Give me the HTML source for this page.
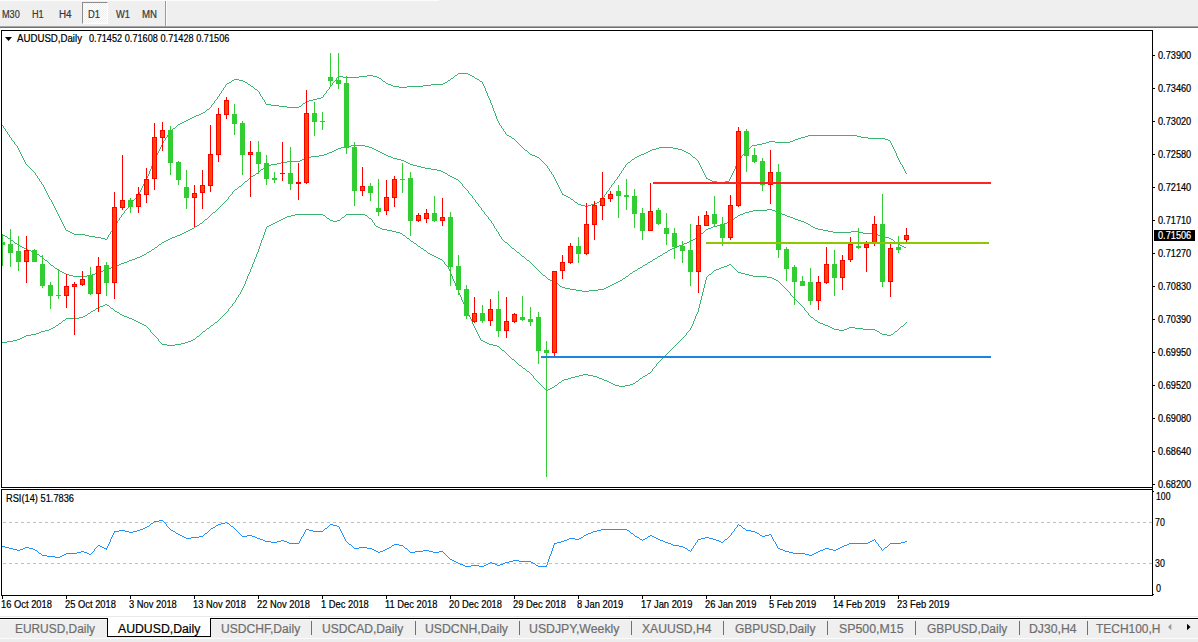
<!DOCTYPE html>
<html><head><meta charset="utf-8"><title>AUDUSD,Daily</title><style>
html,body{margin:0;padding:0;background:#fff}
body{width:1198px;height:642px;position:relative;overflow:hidden;font-family:"Liberation Sans",sans-serif}
.t{position:absolute;white-space:nowrap;color:#000;transform-origin:0 50%;-webkit-text-stroke:0.2px currentColor}
#tb{position:absolute;left:0;top:0;width:1198px;height:26px;background:#efefef}
#tbh{position:absolute;left:0;top:0;width:439px;height:1px;background:#fcfcfc}
#tbl1{position:absolute;left:0;top:26px;width:1198px;height:1px;background:#a6a6a6}
#tbl2{position:absolute;left:0;top:27px;width:1198px;height:1px;background:#707070}
#d1{position:absolute;left:82px;top:2px;width:24px;height:20px;border:1px solid #8c8c8c;border-right-color:#fff;border-bottom-color:#fff;background-color:#f7f7f7;background-image:conic-gradient(#fff 25%,#efefef 0 50%,#fff 0 75%,#efefef 0);background-size:2px 2px;box-sizing:content-box}
#vsep{position:absolute;left:165px;top:1px;width:1px;height:25px;background:#9a9a9a;border-right:1px solid #fbfbfb}
#tabs{position:absolute;left:0;top:620px;width:1198px;height:18px;background:#efefef}
#tabsl{position:absolute;left:0;top:616px;width:1198px;height:1px;background:#e8e8e8}
#tabline{position:absolute;left:0;top:618px;width:1198px;height:1px;background:#000}
#tabl2{position:absolute;left:0;top:619px;width:1198px;height:1px;background:#fafafa}
#tabbot{position:absolute;left:0;top:639px;width:1198px;height:3px;background:#ececec}
#tabbot2{position:absolute;left:0;top:638px;width:1198px;height:1px;background:#fbfbfb}
#act{position:absolute;left:107px;top:618px;width:102px;height:18px;background:#fff;border:1px solid #000;border-top:none;box-sizing:content-box}
.sep{position:absolute;top:621px;width:1px;height:14px;background:#707070}
svg{position:absolute;left:0;top:0}
</style></head><body>
<div id="tb"></div><div id="tbh"></div><div id="tbl1"></div><div id="tbl2"></div><div id="d1"></div><div id="vsep"></div><div class="t " style="left:1.5px;top:7.54px;font-size:10px;line-height:14px;color:#383838;transform:scaleX(0.9150)">M30</div><div class="t " style="left:32.3px;top:7.54px;font-size:10px;line-height:14px;color:#383838;transform:scaleX(0.9153)">H1</div><div class="t " style="left:59.2px;top:7.54px;font-size:10px;line-height:14px;color:#383838;transform:scaleX(0.9857)">H4</div><div class="t " style="left:88px;top:7.54px;font-size:10px;line-height:14px;color:#383838;transform:scaleX(0.9387)">D1</div><div class="t " style="left:115.8px;top:7.54px;font-size:10px;line-height:14px;color:#383838;transform:scaleX(0.9333)">W1</div><div class="t " style="left:142px;top:7.54px;font-size:10px;line-height:14px;color:#383838;transform:scaleX(0.9645)">MN</div>
<svg width="1198" height="642" viewBox="0 0 1198 642">
<defs><clipPath id="cm"><rect x="2" y="31" width="1150" height="456"/></clipPath><clipPath id="cr"><rect x="2" y="490" width="1150" height="105"/></clipPath></defs>
<g clip-path="url(#cm)" shape-rendering="crispEdges">
<path d="M458 73h10v1h-10zM457 74h1v1h-1zM468 74h2v1h-2zM367 75h6v1h-6zM455 75h2v1h-2zM470 75h2v1h-2zM338 76h5v1h-5zM359 76h8v1h-8zM373 76h4v1h-4zM454 76h1v1h-1zM472 76h2v1h-2zM337 77h1v1h-1zM343 77h16v1h-16zM377 77h2v1h-2zM453 77h1v1h-1zM474 77h1v1h-1zM379 78h2v1h-2zM451 78h2v1h-2zM475 78h2v1h-2zM336 78h1v2h-1zM234 79h5v1h-5zM381 79h1v1h-1zM450 79h1v1h-1zM477 79h2v1h-2zM232 80h2v1h-2zM239 80h4v1h-4zM335 80h1v1h-1zM382 80h1v1h-1zM448 80h2v1h-2zM479 80h1v1h-1zM231 81h1v1h-1zM243 81h2v1h-2zM334 81h1v1h-1zM383 81h2v1h-2zM447 81h1v1h-1zM480 81h2v1h-2zM229 82h2v1h-2zM245 82h2v1h-2zM333 82h1v1h-1zM385 82h1v1h-1zM445 82h2v1h-2zM482 82h1v2h-1zM227 83h2v1h-2zM247 83h1v1h-1zM386 83h2v1h-2zM443 83h2v1h-2zM332 83h1v2h-1zM226 84h1v1h-1zM248 84h2v1h-2zM388 84h3v1h-3zM431 84h12v1h-12zM483 84h1v2h-1zM250 85h1v1h-1zM331 85h1v1h-1zM391 85h2v1h-2zM423 85h8v1h-8zM225 85h1v2h-1zM251 86h2v1h-2zM330 86h1v1h-1zM393 86h6v1h-6zM407 86h16v1h-16zM484 86h1v2h-1zM224 87h1v1h-1zM253 87h1v1h-1zM399 87h8v1h-8zM329 87h1v2h-1zM254 88h1v1h-1zM223 88h1v2h-1zM485 88h1v3h-1zM255 89h2v1h-2zM328 89h1v1h-1zM222 90h1v1h-1zM257 90h1v1h-1zM327 90h1v1h-1zM258 91h1v1h-1zM221 91h1v2h-1zM326 91h1v2h-1zM486 91h1v2h-1zM259 92h1v2h-1zM220 93h1v1h-1zM325 93h1v1h-1zM487 93h1v3h-1zM324 94h1v1h-1zM219 94h1v2h-1zM260 94h1v2h-1zM323 95h1v2h-1zM218 96h1v1h-1zM261 96h1v1h-1zM488 96h1v2h-1zM321 97h2v1h-2zM217 97h1v2h-1zM262 97h1v2h-1zM317 98h4v1h-4zM489 98h1v2h-1zM216 99h1v1h-1zM263 99h1v1h-1zM313 99h4v1h-4zM215 100h1v1h-1zM309 100h4v1h-4zM264 100h1v2h-1zM490 100h1v3h-1zM306 101h3v1h-3zM214 101h1v2h-1zM305 102h1v1h-1zM265 102h1v2h-1zM213 103h1v1h-1zM303 103h2v1h-2zM491 103h1v2h-1zM212 104h1v1h-1zM266 104h5v1h-5zM302 104h1v1h-1zM271 105h8v1h-8zM301 105h1v1h-1zM211 105h1v2h-1zM492 105h1v3h-1zM279 106h8v1h-8zM299 106h2v1h-2zM210 107h1v1h-1zM287 107h12v1h-12zM209 108h1v1h-1zM493 108h1v3h-1zM207 109h2v1h-2zM206 110h1v1h-1zM205 111h1v1h-1zM494 111h1v2h-1zM203 112h2v1h-2zM-6 113h1v1h-1zM201 113h2v1h-2zM495 113h1v3h-1zM199 114h2v1h-2zM-5 114h1v2h-1zM196 115h3v1h-3zM-4 116h1v1h-1zM194 116h2v1h-2zM496 116h1v3h-1zM192 117h2v1h-2zM-3 117h1v2h-1zM190 118h2v1h-2zM-2 119h1v1h-1zM188 119h2v1h-2zM497 119h1v2h-1zM186 120h2v1h-2zM-1 120h1v2h-1zM184 121h2v1h-2zM498 121h1v2h-1zM0 122h1v1h-1zM182 122h2v1h-2zM180 123h2v1h-2zM1 123h1v2h-1zM499 123h1v2h-1zM178 124h2v1h-2zM2 125h1v1h-1zM177 125h1v1h-1zM500 125h1v1h-1zM176 126h1v1h-1zM3 126h1v2h-1zM501 126h1v2h-1zM175 127h1v1h-1zM4 128h1v1h-1zM173 128h2v1h-2zM502 128h1v1h-1zM172 129h1v1h-1zM5 129h1v2h-1zM503 129h1v2h-1zM171 130h1v1h-1zM6 131h1v1h-1zM170 131h1v1h-1zM504 131h1v1h-1zM7 132h1v2h-1zM169 132h1v2h-1zM505 132h1v2h-1zM8 134h1v1h-1zM168 134h1v1h-1zM506 134h1v1h-1zM507 135h2v1h-2zM808 135h49v1h-49zM9 135h1v2h-1zM167 135h1v2h-1zM509 136h2v1h-2zM805 136h3v1h-3zM857 136h4v1h-4zM10 137h1v1h-1zM166 137h1v1h-1zM511 137h1v1h-1zM801 137h4v1h-4zM861 137h7v1h-7zM512 138h2v1h-2zM798 138h3v1h-3zM868 138h17v1h-17zM11 138h1v2h-1zM165 138h1v2h-1zM514 139h1v1h-1zM795 139h3v1h-3zM885 139h3v1h-3zM12 140h1v1h-1zM164 140h1v1h-1zM515 140h1v1h-1zM793 140h2v1h-2zM888 140h2v1h-2zM13 141h1v1h-1zM516 141h1v1h-1zM769 141h6v1h-6zM790 141h3v1h-3zM163 141h1v2h-1zM890 141h1v2h-1zM517 142h1v1h-1zM766 142h3v1h-3zM775 142h15v1h-15zM14 142h1v2h-1zM518 143h1v1h-1zM762 143h4v1h-4zM162 143h1v2h-1zM891 143h1v2h-1zM15 144h1v1h-1zM519 144h1v1h-1zM757 144h5v1h-5zM16 145h1v1h-1zM520 145h1v1h-1zM752 145h5v1h-5zM161 145h1v2h-1zM892 145h1v2h-1zM521 146h1v1h-1zM751 146h1v1h-1zM17 146h1v2h-1zM522 147h1v1h-1zM659 147h14v1h-14zM750 147h1v1h-1zM160 147h1v2h-1zM893 147h1v2h-1zM523 148h1v1h-1zM656 148h3v1h-3zM673 148h5v1h-5zM749 148h1v1h-1zM18 148h1v2h-1zM524 149h1v1h-1zM652 149h4v1h-4zM678 149h4v1h-4zM748 149h1v1h-1zM159 149h1v2h-1zM894 149h1v2h-1zM525 150h2v1h-2zM650 150h2v1h-2zM682 150h2v1h-2zM747 150h1v1h-1zM19 150h1v2h-1zM527 151h1v1h-1zM648 151h2v1h-2zM684 151h2v1h-2zM746 151h1v1h-1zM158 151h1v2h-1zM895 151h1v2h-1zM528 152h1v1h-1zM646 152h2v1h-2zM686 152h2v1h-2zM745 152h1v1h-1zM20 152h1v2h-1zM529 153h1v1h-1zM644 153h2v1h-2zM688 153h2v1h-2zM744 153h1v1h-1zM157 153h1v2h-1zM896 153h1v3h-1zM530 154h2v1h-2zM641 154h3v1h-3zM690 154h1v1h-1zM743 154h1v1h-1zM21 154h1v2h-1zM532 155h3v1h-3zM639 155h2v1h-2zM691 155h1v1h-1zM742 155h1v1h-1zM156 155h1v2h-1zM535 156h2v1h-2zM637 156h2v1h-2zM692 156h1v1h-1zM22 156h1v2h-1zM741 156h1v2h-1zM897 156h1v2h-1zM537 157h2v1h-2zM635 157h2v1h-2zM693 157h2v1h-2zM155 157h1v2h-1zM539 158h1v1h-1zM634 158h1v1h-1zM695 158h1v1h-1zM740 158h1v1h-1zM23 158h1v2h-1zM898 158h1v2h-1zM540 159h1v1h-1zM632 159h2v1h-2zM696 159h1v1h-1zM739 159h1v1h-1zM154 159h1v3h-1zM541 160h1v1h-1zM631 160h1v1h-1zM697 160h1v1h-1zM24 160h1v2h-1zM738 160h1v2h-1zM899 160h1v2h-1zM542 161h1v1h-1zM630 161h1v1h-1zM698 161h1v2h-1zM543 162h1v1h-1zM628 162h2v1h-2zM25 162h1v2h-1zM153 162h1v2h-1zM737 162h1v2h-1zM900 162h1v2h-1zM544 163h1v1h-1zM627 163h1v1h-1zM699 163h1v2h-1zM26 164h1v1h-1zM545 164h1v1h-1zM626 164h1v1h-1zM901 164h1v1h-1zM152 164h1v2h-1zM736 164h1v2h-1zM27 165h1v1h-1zM546 165h1v1h-1zM625 165h1v2h-1zM700 165h1v2h-1zM902 165h1v2h-1zM28 166h1v1h-1zM547 166h1v2h-1zM151 166h1v3h-1zM735 166h1v3h-1zM29 167h1v1h-1zM624 167h1v1h-1zM701 167h1v2h-1zM903 167h1v2h-1zM30 168h1v1h-1zM548 168h1v1h-1zM623 168h1v2h-1zM31 169h1v1h-1zM150 169h1v2h-1zM549 169h1v2h-1zM702 169h1v2h-1zM734 169h1v2h-1zM904 169h1v2h-1zM32 170h1v1h-1zM622 170h1v1h-1zM33 171h1v1h-1zM550 171h1v1h-1zM621 171h1v2h-1zM703 171h1v2h-1zM733 171h1v2h-1zM905 171h1v2h-1zM149 171h1v3h-1zM34 172h1v1h-1zM551 172h1v2h-1zM620 173h1v1h-1zM906 173h1v1h-1zM35 173h1v2h-1zM704 173h1v2h-1zM732 173h1v2h-1zM552 174h1v1h-1zM148 174h1v2h-1zM619 174h1v2h-1zM36 175h1v1h-1zM553 175h1v2h-1zM705 175h1v2h-1zM731 175h1v2h-1zM618 176h1v1h-1zM37 176h1v2h-1zM147 176h1v2h-1zM554 177h1v2h-1zM617 177h1v2h-1zM706 177h1v2h-1zM730 177h1v2h-1zM38 178h1v1h-1zM707 178h1v1h-1zM146 178h1v2h-1zM616 179h1v1h-1zM708 179h2v1h-2zM39 179h1v2h-1zM555 179h1v2h-1zM729 179h1v2h-1zM615 180h1v1h-1zM710 180h2v1h-2zM145 180h1v2h-1zM40 181h1v1h-1zM712 181h5v1h-5zM725 181h4v1h-4zM556 181h1v2h-1zM614 181h1v2h-1zM717 182h8v1h-8zM41 182h1v2h-1zM144 182h1v2h-1zM613 183h1v1h-1zM557 183h1v2h-1zM42 184h1v1h-1zM612 184h1v1h-1zM143 184h1v2h-1zM43 185h1v2h-1zM558 185h1v2h-1zM611 185h1v2h-1zM142 186h1v2h-1zM610 187h1v1h-1zM44 187h1v2h-1zM559 187h1v2h-1zM141 188h1v2h-1zM609 188h1v2h-1zM45 189h1v2h-1zM560 189h1v2h-1zM608 190h1v1h-1zM140 190h1v2h-1zM607 191h1v1h-1zM46 191h1v2h-1zM561 191h1v2h-1zM139 192h1v2h-1zM606 192h1v2h-1zM47 193h1v2h-1zM562 193h1v2h-1zM138 194h1v1h-1zM563 194h1v1h-1zM605 194h1v1h-1zM137 195h1v1h-1zM564 195h2v1h-2zM48 195h1v2h-1zM604 195h1v2h-1zM566 196h2v1h-2zM136 196h1v2h-1zM568 197h2v1h-2zM603 197h1v1h-1zM49 197h1v2h-1zM135 198h1v1h-1zM570 198h1v1h-1zM602 198h1v1h-1zM50 199h1v1h-1zM134 199h1v1h-1zM571 199h2v1h-2zM601 199h1v2h-1zM133 200h1v1h-1zM573 200h1v1h-1zM51 200h1v2h-1zM574 201h1v1h-1zM599 201h2v1h-2zM132 201h1v2h-1zM575 202h2v1h-2zM597 202h2v1h-2zM52 202h1v2h-1zM131 203h1v1h-1zM577 203h1v1h-1zM594 203h3v1h-3zM130 204h1v1h-1zM578 204h3v1h-3zM591 204h3v1h-3zM53 204h1v2h-1zM129 205h1v1h-1zM581 205h4v1h-4zM588 205h3v1h-3zM585 206h3v1h-3zM54 206h1v2h-1zM128 206h1v2h-1zM127 208h1v1h-1zM55 208h1v2h-1zM126 209h1v1h-1zM125 210h1v1h-1zM56 210h1v2h-1zM124 211h1v2h-1zM57 212h1v2h-1zM123 213h1v1h-1zM122 214h1v1h-1zM58 214h1v2h-1zM121 215h1v2h-1zM59 216h1v2h-1zM120 217h1v1h-1zM60 218h1v2h-1zM119 218h1v2h-1zM118 220h1v1h-1zM61 220h1v2h-1zM117 221h1v2h-1zM62 222h1v2h-1zM116 223h1v1h-1zM63 224h1v2h-1zM115 224h1v2h-1zM114 226h1v1h-1zM64 226h1v2h-1zM113 227h1v2h-1zM65 228h1v2h-1zM112 229h1v2h-1zM66 230h2v1h-2zM68 231h2v1h-2zM111 231h1v1h-1zM70 232h2v1h-2zM110 232h1v2h-1zM72 233h2v1h-2zM74 234h11v1h-11zM109 234h1v1h-1zM85 235h4v1h-4zM108 235h1v2h-1zM89 236h6v1h-6zM95 237h6v1h-6zM107 237h1v2h-1zM101 238h4v1h-4zM105 239h2v1h-2z" fill="#3cb371" />
<path d="M351 145h14v1h-14zM345 146h6v1h-6zM365 146h4v1h-4zM341 147h4v1h-4zM369 147h3v1h-3zM338 148h3v1h-3zM372 148h2v1h-2zM336 149h2v1h-2zM374 149h2v1h-2zM334 150h2v1h-2zM376 150h2v1h-2zM332 151h2v1h-2zM378 151h2v1h-2zM329 152h3v1h-3zM380 152h2v1h-2zM327 153h2v1h-2zM382 153h2v1h-2zM324 154h3v1h-3zM384 154h2v1h-2zM319 155h5v1h-5zM386 155h2v1h-2zM311 156h8v1h-8zM388 156h3v1h-3zM306 157h5v1h-5zM391 157h2v1h-2zM304 158h2v1h-2zM393 158h4v1h-4zM302 159h2v1h-2zM397 159h4v1h-4zM300 160h2v1h-2zM401 160h3v1h-3zM287 161h13v1h-13zM404 161h2v1h-2zM281 162h6v1h-6zM406 162h2v1h-2zM277 163h4v1h-4zM408 163h2v1h-2zM271 164h6v1h-6zM410 164h3v1h-3zM266 165h5v1h-5zM413 165h4v1h-4zM265 166h1v1h-1zM417 166h4v1h-4zM264 167h1v1h-1zM421 167h4v1h-4zM263 168h1v1h-1zM425 168h6v1h-6zM261 169h2v1h-2zM431 169h6v1h-6zM260 170h1v1h-1zM437 170h4v1h-4zM259 171h1v1h-1zM441 171h2v1h-2zM258 172h1v1h-1zM443 172h2v1h-2zM256 173h2v1h-2zM445 173h2v1h-2zM255 174h1v1h-1zM447 174h1v1h-1zM253 175h2v1h-2zM448 175h2v1h-2zM251 176h2v1h-2zM450 176h2v1h-2zM250 177h1v1h-1zM452 177h2v1h-2zM249 178h1v1h-1zM454 178h2v1h-2zM248 179h1v1h-1zM456 179h2v1h-2zM247 180h1v1h-1zM458 180h1v1h-1zM245 181h2v1h-2zM459 181h1v1h-1zM244 182h1v1h-1zM460 182h1v1h-1zM243 183h1v1h-1zM461 183h1v1h-1zM242 184h1v1h-1zM462 184h1v2h-1zM241 185h1v1h-1zM239 186h2v1h-2zM463 186h1v1h-1zM238 187h1v1h-1zM464 187h1v1h-1zM237 188h1v1h-1zM465 188h1v1h-1zM235 189h2v1h-2zM466 189h1v1h-1zM234 190h1v1h-1zM467 190h1v1h-1zM233 191h1v1h-1zM468 191h1v2h-1zM232 192h1v2h-1zM469 193h1v1h-1zM231 194h1v1h-1zM470 194h1v1h-1zM230 195h1v1h-1zM471 195h1v1h-1zM229 196h1v1h-1zM472 196h1v2h-1zM228 197h1v2h-1zM473 198h1v1h-1zM227 199h1v1h-1zM474 199h1v1h-1zM226 200h1v1h-1zM475 200h1v2h-1zM225 201h1v1h-1zM224 202h1v1h-1zM476 202h1v1h-1zM223 203h1v1h-1zM477 203h1v1h-1zM222 204h1v1h-1zM478 204h1v2h-1zM221 205h1v1h-1zM220 206h1v1h-1zM479 206h1v1h-1zM219 207h1v1h-1zM480 207h1v1h-1zM218 208h1v1h-1zM481 208h1v2h-1zM217 209h1v1h-1zM767 209h5v1h-5zM216 210h1v1h-1zM482 210h1v1h-1zM753 210h14v1h-14zM772 210h3v1h-3zM215 211h1v1h-1zM483 211h1v1h-1zM749 211h4v1h-4zM775 211h2v1h-2zM213 212h2v1h-2zM745 212h4v1h-4zM777 212h3v1h-3zM484 212h1v2h-1zM212 213h1v1h-1zM743 213h2v1h-2zM780 213h2v1h-2zM211 214h1v1h-1zM485 214h1v1h-1zM740 214h3v1h-3zM782 214h3v1h-3zM210 215h1v1h-1zM486 215h1v1h-1zM738 215h2v1h-2zM785 215h2v1h-2zM209 216h1v1h-1zM487 216h1v1h-1zM737 216h1v1h-1zM787 216h3v1h-3zM208 217h1v1h-1zM735 217h2v1h-2zM790 217h3v1h-3zM488 217h1v2h-1zM207 218h1v1h-1zM734 218h1v1h-1zM793 218h2v1h-2zM205 219h2v1h-2zM489 219h1v1h-1zM733 219h1v1h-1zM795 219h3v1h-3zM204 220h1v1h-1zM490 220h1v1h-1zM731 220h2v1h-2zM798 220h3v1h-3zM203 221h1v1h-1zM729 221h2v1h-2zM801 221h3v1h-3zM491 221h1v2h-1zM202 222h1v1h-1zM727 222h2v1h-2zM804 222h2v1h-2zM200 223h2v1h-2zM492 223h1v1h-1zM724 223h3v1h-3zM806 223h2v1h-2zM199 224h1v1h-1zM721 224h3v1h-3zM808 224h2v1h-2zM493 224h1v2h-1zM197 225h2v1h-2zM717 225h4v1h-4zM810 225h1v1h-1zM195 226h2v1h-2zM713 226h4v1h-4zM811 226h2v1h-2zM494 226h1v2h-1zM194 227h1v1h-1zM711 227h2v1h-2zM813 227h2v1h-2zM192 228h2v1h-2zM495 228h1v1h-1zM708 228h3v1h-3zM815 228h3v1h-3zM190 229h2v1h-2zM706 229h2v1h-2zM818 229h5v1h-5zM496 229h1v2h-1zM-6 230h2v1h-2zM188 230h2v1h-2zM705 230h1v1h-1zM823 230h5v1h-5zM-4 231h2v1h-2zM186 231h2v1h-2zM497 231h1v1h-1zM704 231h1v1h-1zM828 231h5v1h-5zM851 231h7v1h-7zM-2 232h2v1h-2zM184 232h2v1h-2zM703 232h1v1h-1zM833 232h18v1h-18zM858 232h5v1h-5zM498 232h1v2h-1zM0 233h2v1h-2zM182 233h2v1h-2zM701 233h2v1h-2zM863 233h11v1h-11zM2 234h1v1h-1zM180 234h2v1h-2zM700 234h1v1h-1zM874 234h4v1h-4zM499 234h1v2h-1zM3 235h2v1h-2zM177 235h3v1h-3zM699 235h1v1h-1zM878 235h3v1h-3zM5 236h2v1h-2zM175 236h2v1h-2zM500 236h1v1h-1zM698 236h1v1h-1zM881 236h4v1h-4zM7 237h1v1h-1zM172 237h3v1h-3zM696 237h2v1h-2zM885 237h4v1h-4zM501 237h1v2h-1zM8 238h2v1h-2zM170 238h2v1h-2zM695 238h1v1h-1zM889 238h2v1h-2zM10 239h1v1h-1zM168 239h2v1h-2zM502 239h1v1h-1zM693 239h2v1h-2zM891 239h2v1h-2zM11 240h2v1h-2zM166 240h2v1h-2zM503 240h1v1h-1zM691 240h2v1h-2zM893 240h1v1h-1zM13 241h1v1h-1zM164 241h2v1h-2zM504 241h1v1h-1zM689 241h2v1h-2zM894 241h1v1h-1zM14 242h1v1h-1zM162 242h2v1h-2zM505 242h2v1h-2zM687 242h2v1h-2zM895 242h2v1h-2zM15 243h2v1h-2zM161 243h1v1h-1zM507 243h1v1h-1zM684 243h3v1h-3zM897 243h1v1h-1zM17 244h1v1h-1zM159 244h2v1h-2zM508 244h1v1h-1zM682 244h2v1h-2zM898 244h2v1h-2zM18 245h2v1h-2zM158 245h1v1h-1zM509 245h1v1h-1zM679 245h3v1h-3zM900 245h2v1h-2zM20 246h2v1h-2zM157 246h1v1h-1zM510 246h1v1h-1zM677 246h2v1h-2zM902 246h2v1h-2zM22 247h2v1h-2zM155 247h2v1h-2zM511 247h1v1h-1zM674 247h3v1h-3zM904 247h2v1h-2zM24 248h2v1h-2zM154 248h1v1h-1zM512 248h2v1h-2zM672 248h2v1h-2zM26 249h2v1h-2zM152 249h2v1h-2zM514 249h1v1h-1zM670 249h2v1h-2zM28 250h3v1h-3zM151 250h1v1h-1zM515 250h1v1h-1zM668 250h2v1h-2zM31 251h2v1h-2zM149 251h2v1h-2zM516 251h1v1h-1zM667 251h1v1h-1zM33 252h2v1h-2zM147 252h2v1h-2zM517 252h2v1h-2zM665 252h2v1h-2zM35 253h2v1h-2zM146 253h1v1h-1zM519 253h1v1h-1zM663 253h2v1h-2zM37 254h2v1h-2zM144 254h2v1h-2zM520 254h1v1h-1zM662 254h1v1h-1zM39 255h1v1h-1zM142 255h2v1h-2zM521 255h1v1h-1zM660 255h2v1h-2zM40 256h2v1h-2zM140 256h2v1h-2zM522 256h2v1h-2zM658 256h2v1h-2zM42 257h1v1h-1zM137 257h3v1h-3zM524 257h1v1h-1zM657 257h1v1h-1zM43 258h1v1h-1zM135 258h2v1h-2zM525 258h1v1h-1zM655 258h2v1h-2zM44 259h1v1h-1zM132 259h3v1h-3zM526 259h1v1h-1zM653 259h2v1h-2zM45 260h2v1h-2zM129 260h3v1h-3zM527 260h2v1h-2zM652 260h1v1h-1zM47 261h1v1h-1zM127 261h2v1h-2zM529 261h1v1h-1zM650 261h2v1h-2zM48 262h1v1h-1zM124 262h3v1h-3zM530 262h1v1h-1zM648 262h2v1h-2zM49 263h1v1h-1zM121 263h3v1h-3zM531 263h1v1h-1zM647 263h1v1h-1zM50 264h1v1h-1zM119 264h2v1h-2zM532 264h1v1h-1zM645 264h2v1h-2zM51 265h2v1h-2zM116 265h3v1h-3zM533 265h1v1h-1zM643 265h2v1h-2zM53 266h1v1h-1zM113 266h3v1h-3zM534 266h1v1h-1zM642 266h1v1h-1zM54 267h1v1h-1zM111 267h2v1h-2zM535 267h1v1h-1zM640 267h2v1h-2zM55 268h2v1h-2zM108 268h3v1h-3zM536 268h1v1h-1zM638 268h2v1h-2zM57 269h1v1h-1zM105 269h3v1h-3zM537 269h1v1h-1zM637 269h1v1h-1zM58 270h2v1h-2zM103 270h2v1h-2zM538 270h1v1h-1zM635 270h2v1h-2zM60 271h2v1h-2zM100 271h3v1h-3zM539 271h1v1h-1zM633 271h2v1h-2zM62 272h2v1h-2zM97 272h3v1h-3zM540 272h1v1h-1zM632 272h1v1h-1zM64 273h2v1h-2zM95 273h2v1h-2zM541 273h1v1h-1zM630 273h2v1h-2zM66 274h3v1h-3zM92 274h3v1h-3zM542 274h1v1h-1zM629 274h1v1h-1zM69 275h4v1h-4zM87 275h5v1h-5zM543 275h2v1h-2zM628 275h1v1h-1zM73 276h14v1h-14zM545 276h1v1h-1zM626 276h2v1h-2zM546 277h1v1h-1zM625 277h1v1h-1zM547 278h1v1h-1zM623 278h2v1h-2zM548 279h2v1h-2zM622 279h1v1h-1zM550 280h2v1h-2zM620 280h2v1h-2zM552 281h2v1h-2zM618 281h2v1h-2zM554 282h2v1h-2zM616 282h2v1h-2zM556 283h2v1h-2zM614 283h2v1h-2zM558 284h1v1h-1zM612 284h2v1h-2zM559 285h1v1h-1zM610 285h2v1h-2zM560 286h2v1h-2zM608 286h2v1h-2zM562 287h3v1h-3zM606 287h2v1h-2zM565 288h5v1h-5zM604 288h2v1h-2zM570 289h6v1h-6zM598 289h6v1h-6zM576 290h6v1h-6zM589 290h9v1h-9zM582 291h7v1h-7z" fill="#3cb371" />
<path d="M295 214h28v1h-28zM346 214h19v1h-19zM291 215h4v1h-4zM323 215h2v1h-2zM345 215h1v1h-1zM365 215h2v1h-2zM287 216h4v1h-4zM325 216h1v1h-1zM344 216h1v1h-1zM367 216h1v1h-1zM285 217h2v1h-2zM326 217h1v1h-1zM342 217h2v1h-2zM368 217h1v1h-1zM283 218h2v1h-2zM327 218h2v1h-2zM341 218h1v1h-1zM369 218h2v1h-2zM281 219h2v1h-2zM329 219h1v1h-1zM340 219h1v1h-1zM371 219h1v1h-1zM279 220h2v1h-2zM330 220h3v1h-3zM337 220h3v1h-3zM372 220h1v2h-1zM277 221h2v1h-2zM333 221h4v1h-4zM275 222h2v1h-2zM373 222h1v1h-1zM273 223h2v1h-2zM374 223h1v2h-1zM271 224h2v1h-2zM269 225h2v1h-2zM375 225h1v1h-1zM267 226h2v1h-2zM376 226h2v1h-2zM378 227h2v1h-2zM266 227h1v2h-1zM380 228h2v1h-2zM382 229h5v1h-5zM265 229h1v3h-1zM387 230h5v1h-5zM392 231h4v1h-4zM396 232h4v1h-4zM264 232h1v3h-1zM400 233h2v1h-2zM402 234h1v1h-1zM403 235h2v1h-2zM263 235h1v3h-1zM405 236h1v1h-1zM406 237h1v1h-1zM407 238h2v1h-2zM262 238h1v2h-1zM409 239h1v1h-1zM410 240h1v1h-1zM261 240h1v3h-1zM411 241h2v1h-2zM413 242h1v1h-1zM414 243h2v1h-2zM260 243h1v3h-1zM416 244h1v1h-1zM417 245h1v1h-1zM418 246h2v1h-2zM259 246h1v3h-1zM420 247h1v1h-1zM421 248h2v1h-2zM423 249h1v1h-1zM258 249h1v3h-1zM424 250h2v1h-2zM426 251h1v1h-1zM427 252h1v1h-1zM257 252h1v2h-1zM428 253h2v1h-2zM430 254h2v1h-2zM256 254h1v3h-1zM432 255h2v1h-2zM434 256h2v1h-2zM436 257h2v1h-2zM255 257h1v2h-1zM438 258h2v1h-2zM440 259h2v1h-2zM254 259h1v3h-1zM442 260h1v1h-1zM443 261h1v1h-1zM253 262h1v2h-1zM444 262h1v2h-1zM445 264h1v1h-1zM729 264h2v1h-2zM252 264h1v3h-1zM446 265h1v1h-1zM727 265h2v1h-2zM731 265h1v1h-1zM447 266h1v1h-1zM724 266h3v1h-3zM732 266h1v1h-1zM721 267h3v1h-3zM733 267h1v1h-1zM251 267h1v2h-1zM448 267h1v2h-1zM719 268h2v1h-2zM734 268h1v1h-1zM716 269h3v1h-3zM735 269h1v1h-1zM449 269h1v2h-1zM250 269h1v3h-1zM714 270h2v1h-2zM736 270h1v1h-1zM713 271h1v1h-1zM737 271h1v1h-1zM450 271h1v3h-1zM712 272h1v1h-1zM738 272h3v1h-3zM249 272h1v2h-1zM711 273h1v1h-1zM741 273h4v1h-4zM709 274h2v1h-2zM745 274h4v1h-4zM248 274h1v2h-1zM451 274h1v2h-1zM708 275h1v1h-1zM749 275h4v1h-4zM707 276h1v1h-1zM753 276h14v1h-14zM247 276h1v3h-1zM452 276h1v3h-1zM767 277h5v1h-5zM706 277h1v3h-1zM772 278h2v1h-2zM774 279h2v1h-2zM246 279h1v2h-1zM453 279h1v2h-1zM776 280h2v1h-2zM705 280h1v4h-1zM778 281h1v1h-1zM454 281h1v2h-1zM245 281h1v3h-1zM779 282h1v1h-1zM780 283h1v1h-1zM455 283h1v3h-1zM781 284h1v1h-1zM244 284h1v2h-1zM704 284h1v4h-1zM782 285h1v1h-1zM783 286h1v1h-1zM243 286h1v2h-1zM456 286h1v2h-1zM784 287h1v1h-1zM785 288h1v1h-1zM242 288h1v2h-1zM457 288h1v2h-1zM703 288h1v4h-1zM786 289h1v1h-1zM787 290h1v1h-1zM241 290h1v2h-1zM458 290h1v3h-1zM788 291h1v1h-1zM789 292h1v1h-1zM240 292h1v2h-1zM702 292h1v4h-1zM459 293h1v2h-1zM790 293h1v2h-1zM239 294h1v1h-1zM791 295h1v1h-1zM238 295h1v2h-1zM460 295h1v2h-1zM792 296h1v1h-1zM701 296h1v4h-1zM237 297h1v1h-1zM793 297h1v1h-1zM461 297h1v3h-1zM794 298h1v1h-1zM236 298h1v2h-1zM795 299h1v1h-1zM796 300h1v1h-1zM235 300h1v2h-1zM462 300h1v2h-1zM700 300h1v4h-1zM797 301h1v1h-1zM234 302h1v1h-1zM798 302h1v1h-1zM463 302h1v2h-1zM233 303h1v1h-1zM799 303h1v1h-1zM105 304h2v1h-2zM800 304h1v1h-1zM232 304h1v2h-1zM464 304h1v2h-1zM699 304h1v4h-1zM103 305h2v1h-2zM107 305h2v1h-2zM801 305h1v1h-1zM100 306h3v1h-3zM109 306h1v1h-1zM231 306h1v1h-1zM802 306h1v1h-1zM465 306h1v3h-1zM98 307h2v1h-2zM110 307h1v1h-1zM230 307h1v1h-1zM803 307h1v1h-1zM96 308h2v1h-2zM111 308h2v1h-2zM229 308h1v1h-1zM804 308h1v2h-1zM698 308h1v4h-1zM95 309h1v1h-1zM113 309h1v1h-1zM228 309h1v2h-1zM466 309h1v2h-1zM93 310h2v1h-2zM114 310h1v1h-1zM805 310h1v1h-1zM91 311h2v1h-2zM115 311h2v1h-2zM227 311h1v1h-1zM806 311h1v1h-1zM467 311h1v2h-1zM90 312h1v1h-1zM117 312h2v1h-2zM226 312h1v1h-1zM807 312h1v1h-1zM697 312h1v2h-1zM88 313h2v1h-2zM119 313h1v1h-1zM225 313h1v1h-1zM468 313h1v2h-1zM808 313h1v2h-1zM87 314h1v1h-1zM120 314h2v1h-2zM224 314h1v1h-1zM696 314h1v2h-1zM85 315h2v1h-2zM122 315h2v1h-2zM223 315h1v1h-1zM809 315h1v1h-1zM469 315h1v2h-1zM83 316h2v1h-2zM124 316h3v1h-3zM222 316h1v1h-1zM810 316h1v1h-1zM695 316h1v3h-1zM79 317h4v1h-4zM127 317h2v1h-2zM221 317h1v1h-1zM811 317h2v1h-2zM470 317h1v2h-1zM66 318h13v1h-13zM129 318h3v1h-3zM220 318h1v1h-1zM813 318h1v1h-1zM65 319h1v1h-1zM132 319h2v1h-2zM219 319h1v1h-1zM814 319h1v1h-1zM471 319h1v2h-1zM694 319h1v2h-1zM63 320h2v1h-2zM134 320h2v1h-2zM218 320h1v1h-1zM815 320h2v1h-2zM62 321h1v1h-1zM136 321h2v1h-2zM217 321h1v1h-1zM817 321h1v1h-1zM472 321h1v3h-1zM693 321h1v3h-1zM61 322h1v1h-1zM138 322h2v1h-2zM215 322h2v1h-2zM818 322h2v1h-2zM906 322h1v1h-1zM59 323h2v1h-2zM140 323h2v1h-2zM214 323h1v1h-1zM820 323h3v1h-3zM905 323h1v1h-1zM58 324h1v1h-1zM142 324h2v1h-2zM213 324h1v1h-1zM823 324h2v1h-2zM904 324h1v1h-1zM473 324h1v2h-1zM692 324h1v2h-1zM56 325h2v1h-2zM144 325h2v1h-2zM211 325h2v1h-2zM825 325h3v1h-3zM903 325h1v1h-1zM55 326h1v1h-1zM146 326h1v1h-1zM210 326h1v1h-1zM828 326h2v1h-2zM901 326h2v1h-2zM474 326h1v2h-1zM691 326h1v2h-1zM53 327h2v1h-2zM147 327h1v1h-1zM209 327h1v1h-1zM830 327h2v1h-2zM849 327h6v1h-6zM900 327h1v1h-1zM51 328h2v1h-2zM148 328h1v1h-1zM207 328h2v1h-2zM832 328h2v1h-2zM847 328h2v1h-2zM855 328h8v1h-8zM899 328h1v1h-1zM475 328h1v2h-1zM690 328h1v2h-1zM49 329h2v1h-2zM149 329h1v1h-1zM206 329h1v1h-1zM834 329h5v1h-5zM844 329h3v1h-3zM863 329h12v1h-12zM898 329h1v1h-1zM45 330h4v1h-4zM205 330h1v1h-1zM689 330h1v1h-1zM839 330h5v1h-5zM875 330h2v1h-2zM897 330h1v1h-1zM150 330h1v2h-1zM476 330h1v2h-1zM41 331h4v1h-4zM203 331h2v1h-2zM688 331h1v1h-1zM877 331h2v1h-2zM895 331h2v1h-2zM39 332h2v1h-2zM151 332h1v1h-1zM202 332h1v1h-1zM687 332h1v1h-1zM879 332h1v1h-1zM894 332h1v1h-1zM477 332h1v2h-1zM36 333h3v1h-3zM152 333h1v1h-1zM201 333h1v1h-1zM880 333h2v1h-2zM893 333h1v1h-1zM686 333h1v2h-1zM31 334h5v1h-5zM153 334h1v1h-1zM200 334h1v1h-1zM882 334h5v1h-5zM891 334h2v1h-2zM478 334h1v2h-1zM26 335h5v1h-5zM154 335h1v1h-1zM199 335h1v1h-1zM685 335h1v1h-1zM887 335h4v1h-4zM24 336h2v1h-2zM155 336h1v1h-1zM197 336h2v1h-2zM684 336h1v1h-1zM479 336h1v2h-1zM22 337h2v1h-2zM156 337h1v1h-1zM196 337h1v1h-1zM683 337h1v1h-1zM20 338h2v1h-2zM157 338h1v1h-1zM195 338h1v1h-1zM682 338h1v1h-1zM480 338h1v2h-1zM17 339h3v1h-3zM193 339h2v1h-2zM681 339h1v1h-1zM158 339h1v2h-1zM13 340h4v1h-4zM191 340h2v1h-2zM481 340h2v1h-2zM680 340h1v1h-1zM7 341h6v1h-6zM159 341h1v1h-1zM188 341h3v1h-3zM483 341h2v1h-2zM679 341h1v1h-1zM1 342h6v1h-6zM160 342h1v1h-1zM185 342h3v1h-3zM485 342h2v1h-2zM678 342h1v1h-1zM-3 343h4v1h-4zM161 343h1v1h-1zM181 343h4v1h-4zM487 343h2v1h-2zM677 343h1v1h-1zM-6 344h3v1h-3zM162 344h5v1h-5zM175 344h6v1h-6zM489 344h4v1h-4zM676 344h1v1h-1zM167 345h8v1h-8zM493 345h4v1h-4zM675 345h1v1h-1zM497 346h2v1h-2zM674 346h1v1h-1zM499 347h1v1h-1zM673 347h1v1h-1zM500 348h1v1h-1zM672 348h1v1h-1zM501 349h1v1h-1zM671 349h1v1h-1zM502 350h2v1h-2zM670 350h1v1h-1zM504 351h1v1h-1zM669 351h1v1h-1zM505 352h1v1h-1zM668 352h1v1h-1zM506 353h1v1h-1zM667 353h1v1h-1zM507 354h1v1h-1zM666 354h1v1h-1zM508 355h1v1h-1zM665 355h1v1h-1zM509 356h1v1h-1zM664 356h1v1h-1zM510 357h1v1h-1zM663 357h1v1h-1zM511 358h1v1h-1zM662 358h1v1h-1zM512 359h2v1h-2zM661 359h1v1h-1zM514 360h1v1h-1zM660 360h1v1h-1zM515 361h1v1h-1zM659 361h1v1h-1zM516 362h1v1h-1zM658 362h1v1h-1zM517 363h1v1h-1zM657 363h1v1h-1zM518 364h1v1h-1zM656 364h1v2h-1zM519 365h2v1h-2zM521 366h1v1h-1zM655 366h1v1h-1zM522 367h1v1h-1zM654 367h1v1h-1zM523 368h2v1h-2zM653 368h1v1h-1zM525 369h1v1h-1zM652 369h1v2h-1zM526 370h1v1h-1zM527 371h2v1h-2zM651 371h1v1h-1zM529 372h1v1h-1zM650 372h1v1h-1zM530 373h1v1h-1zM648 373h2v1h-2zM531 374h1v1h-1zM583 374h5v1h-5zM647 374h1v1h-1zM532 375h1v1h-1zM579 375h4v1h-4zM588 375h5v1h-5zM645 375h2v1h-2zM575 376h4v1h-4zM593 376h4v1h-4zM643 376h2v1h-2zM533 376h1v2h-1zM571 377h4v1h-4zM597 377h2v1h-2zM642 377h1v1h-1zM534 378h1v1h-1zM568 378h3v1h-3zM599 378h3v1h-3zM640 378h2v1h-2zM535 379h1v1h-1zM564 379h4v1h-4zM602 379h2v1h-2zM639 379h1v1h-1zM536 380h1v1h-1zM562 380h2v1h-2zM604 380h3v1h-3zM638 380h1v1h-1zM537 381h1v1h-1zM561 381h1v1h-1zM607 381h2v1h-2zM636 381h2v1h-2zM538 382h1v1h-1zM559 382h2v1h-2zM609 382h2v1h-2zM635 382h1v1h-1zM539 383h1v1h-1zM558 383h1v1h-1zM611 383h2v1h-2zM633 383h2v1h-2zM540 384h1v1h-1zM557 384h1v1h-1zM613 384h2v1h-2zM630 384h3v1h-3zM541 385h1v1h-1zM555 385h2v1h-2zM615 385h4v1h-4zM625 385h5v1h-5zM542 386h1v1h-1zM554 386h1v1h-1zM619 386h6v1h-6zM543 387h1v1h-1zM552 387h2v1h-2zM544 388h1v1h-1zM550 388h2v1h-2zM545 389h1v1h-1zM548 389h2v1h-2zM546 390h2v1h-2z" fill="#3cb371" />
<rect x="2" y="234" width="1" height="32" fill="#32cd32"/>
<rect x="0" y="242" width="5" height="3" fill="#32cd32"/>
<rect x="10" y="229" width="1" height="38" fill="#32cd32"/>
<rect x="8" y="244" width="5" height="9" fill="#32cd32"/>
<rect x="18" y="236" width="1" height="35" fill="#32cd32"/>
<rect x="16" y="251" width="5" height="11" fill="#32cd32"/>
<rect x="26" y="236" width="1" height="47" fill="#ff0000"/>
<rect x="24" y="250" width="5" height="12" fill="#ff0000"/>
<rect x="25" y="251" width="3" height="10" fill="#ff4500"/>
<rect x="34" y="249" width="1" height="13" fill="#32cd32"/>
<rect x="32" y="250" width="5" height="12" fill="#32cd32"/>
<rect x="42" y="255" width="1" height="33" fill="#32cd32"/>
<rect x="40" y="264" width="5" height="22" fill="#32cd32"/>
<rect x="50" y="282" width="1" height="27" fill="#32cd32"/>
<rect x="48" y="285" width="5" height="11" fill="#32cd32"/>
<rect x="58" y="269" width="1" height="30" fill="#32cd32"/>
<rect x="56" y="295" width="5" height="1" fill="#32cd32"/>
<rect x="66" y="274" width="1" height="34" fill="#ff0000"/>
<rect x="64" y="286" width="5" height="10" fill="#ff0000"/>
<rect x="65" y="287" width="3" height="8" fill="#ff4500"/>
<rect x="74" y="282" width="1" height="53" fill="#ff0000"/>
<rect x="72" y="284" width="5" height="3" fill="#ff0000"/>
<rect x="73" y="285" width="3" height="1" fill="#ff4500"/>
<rect x="82" y="271" width="1" height="15" fill="#ff0000"/>
<rect x="80" y="279" width="5" height="6" fill="#ff0000"/>
<rect x="81" y="280" width="3" height="4" fill="#ff4500"/>
<rect x="90" y="267" width="1" height="28" fill="#32cd32"/>
<rect x="88" y="275" width="5" height="19" fill="#32cd32"/>
<rect x="98" y="257" width="1" height="55" fill="#ff0000"/>
<rect x="96" y="266" width="5" height="28" fill="#ff0000"/>
<rect x="97" y="267" width="3" height="26" fill="#ff4500"/>
<rect x="106" y="262" width="1" height="34" fill="#32cd32"/>
<rect x="104" y="265" width="5" height="18" fill="#32cd32"/>
<rect x="114" y="192" width="1" height="107" fill="#ff0000"/>
<rect x="112" y="207" width="5" height="76" fill="#ff0000"/>
<rect x="113" y="208" width="3" height="74" fill="#ff4500"/>
<rect x="122" y="155" width="1" height="55" fill="#ff0000"/>
<rect x="120" y="200" width="5" height="8" fill="#ff0000"/>
<rect x="121" y="201" width="3" height="6" fill="#ff4500"/>
<rect x="130" y="198" width="1" height="15" fill="#32cd32"/>
<rect x="128" y="200" width="5" height="7" fill="#32cd32"/>
<rect x="138" y="187" width="1" height="26" fill="#ff0000"/>
<rect x="136" y="194" width="5" height="13" fill="#ff0000"/>
<rect x="137" y="195" width="3" height="11" fill="#ff4500"/>
<rect x="146" y="168" width="1" height="35" fill="#ff0000"/>
<rect x="144" y="179" width="5" height="16" fill="#ff0000"/>
<rect x="145" y="180" width="3" height="14" fill="#ff4500"/>
<rect x="154" y="123" width="1" height="67" fill="#ff0000"/>
<rect x="152" y="137" width="5" height="42" fill="#ff0000"/>
<rect x="153" y="138" width="3" height="40" fill="#ff4500"/>
<rect x="162" y="122" width="1" height="29" fill="#ff0000"/>
<rect x="160" y="130" width="5" height="8" fill="#ff0000"/>
<rect x="161" y="131" width="3" height="6" fill="#ff4500"/>
<rect x="170" y="126" width="1" height="49" fill="#32cd32"/>
<rect x="168" y="130" width="5" height="33" fill="#32cd32"/>
<rect x="178" y="161" width="1" height="24" fill="#32cd32"/>
<rect x="176" y="162" width="5" height="18" fill="#32cd32"/>
<rect x="186" y="170" width="1" height="39" fill="#32cd32"/>
<rect x="184" y="187" width="5" height="11" fill="#32cd32"/>
<rect x="194" y="185" width="1" height="42" fill="#ff0000"/>
<rect x="192" y="193" width="5" height="5" fill="#ff0000"/>
<rect x="193" y="194" width="3" height="3" fill="#ff4500"/>
<rect x="202" y="170" width="1" height="39" fill="#ff0000"/>
<rect x="200" y="185" width="5" height="8" fill="#ff0000"/>
<rect x="201" y="186" width="3" height="6" fill="#ff4500"/>
<rect x="210" y="125" width="1" height="67" fill="#ff0000"/>
<rect x="208" y="154" width="5" height="32" fill="#ff0000"/>
<rect x="209" y="155" width="3" height="30" fill="#ff4500"/>
<rect x="218" y="108" width="1" height="54" fill="#ff0000"/>
<rect x="216" y="114" width="5" height="41" fill="#ff0000"/>
<rect x="217" y="115" width="3" height="39" fill="#ff4500"/>
<rect x="226" y="97" width="1" height="22" fill="#ff0000"/>
<rect x="224" y="100" width="5" height="15" fill="#ff0000"/>
<rect x="225" y="101" width="3" height="13" fill="#ff4500"/>
<rect x="234" y="104" width="1" height="31" fill="#32cd32"/>
<rect x="232" y="114" width="5" height="10" fill="#32cd32"/>
<rect x="242" y="121" width="1" height="54" fill="#32cd32"/>
<rect x="240" y="123" width="5" height="32" fill="#32cd32"/>
<rect x="250" y="141" width="1" height="56" fill="#ff0000"/>
<rect x="248" y="152" width="5" height="3" fill="#ff0000"/>
<rect x="249" y="153" width="3" height="1" fill="#ff4500"/>
<rect x="258" y="141" width="1" height="33" fill="#32cd32"/>
<rect x="256" y="152" width="5" height="12" fill="#32cd32"/>
<rect x="266" y="155" width="1" height="30" fill="#32cd32"/>
<rect x="264" y="163" width="5" height="16" fill="#32cd32"/>
<rect x="274" y="172" width="1" height="11" fill="#32cd32"/>
<rect x="272" y="178" width="5" height="2" fill="#32cd32"/>
<rect x="282" y="142" width="1" height="39" fill="#ff0000"/>
<rect x="280" y="173" width="5" height="1" fill="#ff0000"/>
<rect x="290" y="147" width="1" height="43" fill="#32cd32"/>
<rect x="288" y="173" width="5" height="11" fill="#32cd32"/>
<rect x="298" y="163" width="1" height="37" fill="#ff0000"/>
<rect x="296" y="182" width="5" height="2" fill="#ff0000"/>
<rect x="306" y="90" width="1" height="94" fill="#ff0000"/>
<rect x="304" y="113" width="5" height="70" fill="#ff0000"/>
<rect x="305" y="114" width="3" height="68" fill="#ff4500"/>
<rect x="314" y="102" width="1" height="34" fill="#32cd32"/>
<rect x="312" y="113" width="5" height="9" fill="#32cd32"/>
<rect x="322" y="112" width="1" height="18" fill="#32cd32"/>
<rect x="320" y="121" width="5" height="1" fill="#32cd32"/>
<rect x="330" y="53" width="1" height="34" fill="#32cd32"/>
<rect x="328" y="77" width="5" height="4" fill="#32cd32"/>
<rect x="338" y="53" width="1" height="36" fill="#32cd32"/>
<rect x="336" y="80" width="5" height="4" fill="#32cd32"/>
<rect x="346" y="76" width="1" height="78" fill="#32cd32"/>
<rect x="344" y="83" width="5" height="65" fill="#32cd32"/>
<rect x="354" y="142" width="1" height="64" fill="#32cd32"/>
<rect x="352" y="147" width="5" height="44" fill="#32cd32"/>
<rect x="362" y="167" width="1" height="29" fill="#ff0000"/>
<rect x="360" y="186" width="5" height="5" fill="#ff0000"/>
<rect x="361" y="187" width="3" height="3" fill="#ff4500"/>
<rect x="370" y="183" width="1" height="18" fill="#32cd32"/>
<rect x="368" y="186" width="5" height="7" fill="#32cd32"/>
<rect x="378" y="179" width="1" height="37" fill="#32cd32"/>
<rect x="376" y="208" width="5" height="4" fill="#32cd32"/>
<rect x="386" y="180" width="1" height="35" fill="#ff0000"/>
<rect x="384" y="197" width="5" height="14" fill="#ff0000"/>
<rect x="385" y="198" width="3" height="12" fill="#ff4500"/>
<rect x="394" y="176" width="1" height="31" fill="#ff0000"/>
<rect x="392" y="179" width="5" height="19" fill="#ff0000"/>
<rect x="393" y="180" width="3" height="17" fill="#ff4500"/>
<rect x="402" y="163" width="1" height="30" fill="#32cd32"/>
<rect x="400" y="179" width="5" height="1" fill="#32cd32"/>
<rect x="410" y="172" width="1" height="64" fill="#32cd32"/>
<rect x="408" y="178" width="5" height="43" fill="#32cd32"/>
<rect x="418" y="213" width="1" height="9" fill="#ff0000"/>
<rect x="416" y="215" width="5" height="6" fill="#ff0000"/>
<rect x="417" y="216" width="3" height="4" fill="#ff4500"/>
<rect x="426" y="209" width="1" height="14" fill="#ff0000"/>
<rect x="424" y="213" width="5" height="6" fill="#ff0000"/>
<rect x="425" y="214" width="3" height="4" fill="#ff4500"/>
<rect x="434" y="196" width="1" height="26" fill="#32cd32"/>
<rect x="432" y="213" width="5" height="8" fill="#32cd32"/>
<rect x="442" y="198" width="1" height="28" fill="#ff0000"/>
<rect x="440" y="217" width="5" height="4" fill="#ff0000"/>
<rect x="441" y="218" width="3" height="2" fill="#ff4500"/>
<rect x="450" y="212" width="1" height="74" fill="#32cd32"/>
<rect x="448" y="217" width="5" height="50" fill="#32cd32"/>
<rect x="458" y="255" width="1" height="40" fill="#32cd32"/>
<rect x="456" y="266" width="5" height="24" fill="#32cd32"/>
<rect x="466" y="285" width="1" height="34" fill="#32cd32"/>
<rect x="464" y="289" width="5" height="27" fill="#32cd32"/>
<rect x="474" y="297" width="1" height="26" fill="#ff0000"/>
<rect x="472" y="313" width="5" height="9" fill="#ff0000"/>
<rect x="473" y="314" width="3" height="7" fill="#ff4500"/>
<rect x="482" y="305" width="1" height="18" fill="#32cd32"/>
<rect x="480" y="313" width="5" height="8" fill="#32cd32"/>
<rect x="490" y="299" width="1" height="27" fill="#ff0000"/>
<rect x="488" y="309" width="5" height="12" fill="#ff0000"/>
<rect x="489" y="310" width="3" height="10" fill="#ff4500"/>
<rect x="498" y="291" width="1" height="46" fill="#32cd32"/>
<rect x="496" y="309" width="5" height="22" fill="#32cd32"/>
<rect x="506" y="297" width="1" height="41" fill="#ff0000"/>
<rect x="504" y="321" width="5" height="10" fill="#ff0000"/>
<rect x="505" y="322" width="3" height="8" fill="#ff4500"/>
<rect x="514" y="313" width="1" height="10" fill="#ff0000"/>
<rect x="512" y="314" width="5" height="8" fill="#ff0000"/>
<rect x="513" y="315" width="3" height="6" fill="#ff4500"/>
<rect x="522" y="296" width="1" height="25" fill="#32cd32"/>
<rect x="520" y="317" width="5" height="3" fill="#32cd32"/>
<rect x="530" y="307" width="1" height="19" fill="#32cd32"/>
<rect x="528" y="319" width="5" height="3" fill="#32cd32"/>
<rect x="538" y="312" width="1" height="52" fill="#32cd32"/>
<rect x="536" y="317" width="5" height="34" fill="#32cd32"/>
<rect x="546" y="341" width="1" height="136" fill="#32cd32"/>
<rect x="544" y="350" width="5" height="3" fill="#32cd32"/>
<rect x="554" y="271" width="1" height="85" fill="#ff0000"/>
<rect x="552" y="271" width="5" height="82" fill="#ff0000"/>
<rect x="553" y="272" width="3" height="80" fill="#ff4500"/>
<rect x="562" y="255" width="1" height="24" fill="#ff0000"/>
<rect x="560" y="262" width="5" height="9" fill="#ff0000"/>
<rect x="561" y="263" width="3" height="7" fill="#ff4500"/>
<rect x="570" y="243" width="1" height="21" fill="#ff0000"/>
<rect x="568" y="246" width="5" height="17" fill="#ff0000"/>
<rect x="569" y="247" width="3" height="15" fill="#ff4500"/>
<rect x="578" y="237" width="1" height="26" fill="#32cd32"/>
<rect x="576" y="246" width="5" height="8" fill="#32cd32"/>
<rect x="586" y="203" width="1" height="52" fill="#ff0000"/>
<rect x="584" y="224" width="5" height="30" fill="#ff0000"/>
<rect x="585" y="225" width="3" height="28" fill="#ff4500"/>
<rect x="594" y="201" width="1" height="39" fill="#ff0000"/>
<rect x="592" y="205" width="5" height="20" fill="#ff0000"/>
<rect x="593" y="206" width="3" height="18" fill="#ff4500"/>
<rect x="602" y="172" width="1" height="48" fill="#ff0000"/>
<rect x="600" y="198" width="5" height="8" fill="#ff0000"/>
<rect x="601" y="199" width="3" height="6" fill="#ff4500"/>
<rect x="610" y="191" width="1" height="11" fill="#ff0000"/>
<rect x="608" y="194" width="5" height="5" fill="#ff0000"/>
<rect x="609" y="195" width="3" height="3" fill="#ff4500"/>
<rect x="618" y="185" width="1" height="33" fill="#32cd32"/>
<rect x="616" y="191" width="5" height="5" fill="#32cd32"/>
<rect x="626" y="179" width="1" height="31" fill="#32cd32"/>
<rect x="624" y="195" width="5" height="2" fill="#32cd32"/>
<rect x="634" y="189" width="1" height="39" fill="#32cd32"/>
<rect x="632" y="196" width="5" height="18" fill="#32cd32"/>
<rect x="642" y="208" width="1" height="32" fill="#32cd32"/>
<rect x="640" y="213" width="5" height="18" fill="#32cd32"/>
<rect x="650" y="183" width="1" height="48" fill="#ff0000"/>
<rect x="648" y="211" width="5" height="20" fill="#ff0000"/>
<rect x="649" y="212" width="3" height="18" fill="#ff4500"/>
<rect x="658" y="208" width="1" height="17" fill="#32cd32"/>
<rect x="656" y="210" width="5" height="14" fill="#32cd32"/>
<rect x="666" y="213" width="1" height="32" fill="#32cd32"/>
<rect x="664" y="228" width="5" height="6" fill="#32cd32"/>
<rect x="674" y="228" width="1" height="31" fill="#32cd32"/>
<rect x="672" y="233" width="5" height="14" fill="#32cd32"/>
<rect x="682" y="241" width="1" height="22" fill="#32cd32"/>
<rect x="680" y="246" width="5" height="5" fill="#32cd32"/>
<rect x="690" y="224" width="1" height="62" fill="#32cd32"/>
<rect x="688" y="250" width="5" height="22" fill="#32cd32"/>
<rect x="698" y="216" width="1" height="77" fill="#ff0000"/>
<rect x="696" y="225" width="5" height="47" fill="#ff0000"/>
<rect x="697" y="226" width="3" height="45" fill="#ff4500"/>
<rect x="706" y="211" width="1" height="15" fill="#ff0000"/>
<rect x="704" y="215" width="5" height="11" fill="#ff0000"/>
<rect x="705" y="216" width="3" height="9" fill="#ff4500"/>
<rect x="714" y="196" width="1" height="30" fill="#32cd32"/>
<rect x="712" y="214" width="5" height="10" fill="#32cd32"/>
<rect x="722" y="217" width="1" height="29" fill="#32cd32"/>
<rect x="720" y="224" width="5" height="14" fill="#32cd32"/>
<rect x="730" y="195" width="1" height="45" fill="#ff0000"/>
<rect x="728" y="205" width="5" height="33" fill="#ff0000"/>
<rect x="729" y="206" width="3" height="31" fill="#ff4500"/>
<rect x="738" y="127" width="1" height="80" fill="#ff0000"/>
<rect x="736" y="131" width="5" height="75" fill="#ff0000"/>
<rect x="737" y="132" width="3" height="73" fill="#ff4500"/>
<rect x="746" y="129" width="1" height="43" fill="#32cd32"/>
<rect x="744" y="131" width="5" height="25" fill="#32cd32"/>
<rect x="754" y="148" width="1" height="15" fill="#32cd32"/>
<rect x="752" y="155" width="5" height="7" fill="#32cd32"/>
<rect x="762" y="158" width="1" height="33" fill="#32cd32"/>
<rect x="760" y="161" width="5" height="24" fill="#32cd32"/>
<rect x="770" y="150" width="1" height="54" fill="#ff0000"/>
<rect x="768" y="172" width="5" height="13" fill="#ff0000"/>
<rect x="769" y="173" width="3" height="11" fill="#ff4500"/>
<rect x="778" y="164" width="1" height="94" fill="#32cd32"/>
<rect x="776" y="172" width="5" height="78" fill="#32cd32"/>
<rect x="786" y="247" width="1" height="34" fill="#32cd32"/>
<rect x="784" y="249" width="5" height="20" fill="#32cd32"/>
<rect x="794" y="265" width="1" height="40" fill="#32cd32"/>
<rect x="792" y="267" width="5" height="15" fill="#32cd32"/>
<rect x="802" y="276" width="1" height="10" fill="#32cd32"/>
<rect x="800" y="281" width="5" height="5" fill="#32cd32"/>
<rect x="810" y="268" width="1" height="37" fill="#32cd32"/>
<rect x="808" y="282" width="5" height="19" fill="#32cd32"/>
<rect x="818" y="276" width="1" height="34" fill="#ff0000"/>
<rect x="816" y="282" width="5" height="19" fill="#ff0000"/>
<rect x="817" y="283" width="3" height="17" fill="#ff4500"/>
<rect x="826" y="247" width="1" height="37" fill="#ff0000"/>
<rect x="824" y="264" width="5" height="19" fill="#ff0000"/>
<rect x="825" y="265" width="3" height="17" fill="#ff4500"/>
<rect x="834" y="250" width="1" height="46" fill="#32cd32"/>
<rect x="832" y="264" width="5" height="14" fill="#32cd32"/>
<rect x="842" y="255" width="1" height="35" fill="#ff0000"/>
<rect x="840" y="260" width="5" height="18" fill="#ff0000"/>
<rect x="841" y="261" width="3" height="16" fill="#ff4500"/>
<rect x="850" y="237" width="1" height="25" fill="#ff0000"/>
<rect x="848" y="244" width="5" height="16" fill="#ff0000"/>
<rect x="849" y="245" width="3" height="14" fill="#ff4500"/>
<rect x="858" y="228" width="1" height="21" fill="#32cd32"/>
<rect x="856" y="246" width="5" height="2" fill="#32cd32"/>
<rect x="866" y="241" width="1" height="31" fill="#ff0000"/>
<rect x="864" y="244" width="5" height="4" fill="#ff0000"/>
<rect x="865" y="245" width="3" height="2" fill="#ff4500"/>
<rect x="874" y="216" width="1" height="30" fill="#ff0000"/>
<rect x="872" y="224" width="5" height="19" fill="#ff0000"/>
<rect x="873" y="225" width="3" height="17" fill="#ff4500"/>
<rect x="882" y="194" width="1" height="93" fill="#32cd32"/>
<rect x="880" y="224" width="5" height="58" fill="#32cd32"/>
<rect x="890" y="244" width="1" height="53" fill="#ff0000"/>
<rect x="888" y="248" width="5" height="34" fill="#ff0000"/>
<rect x="889" y="249" width="3" height="32" fill="#ff4500"/>
<rect x="898" y="236" width="1" height="17" fill="#32cd32"/>
<rect x="896" y="247" width="5" height="3" fill="#32cd32"/>
<rect x="906" y="228" width="1" height="14" fill="#ff0000"/>
<rect x="904" y="235" width="5" height="5" fill="#ff0000"/>
<rect x="905" y="236" width="3" height="3" fill="#ff4500"/>
<rect x="653" y="182" width="338" height="2" fill="#ff2424"/>
<rect x="706" y="242" width="283" height="2" fill="#8cc800"/>
<rect x="541" y="356" width="450" height="2" fill="#1e82e0"/>
</g>
<g clip-path="url(#cr)" shape-rendering="crispEdges">
<line x1="3" y1="522.5" x2="1152" y2="522.5" stroke="#c0c0c0" stroke-width="1" stroke-dasharray="3,3"/>
<line x1="3" y1="563.5" x2="1152" y2="563.5" stroke="#c0c0c0" stroke-width="1" stroke-dasharray="3,3"/>
<path d="M159 520h4v1h-4zM154 521h5v1h-5zM163 521h1v1h-1zM153 522h1v1h-1zM164 522h1v1h-1zM225 522h2v1h-2zM151 523h2v1h-2zM165 523h1v1h-1zM221 523h4v1h-4zM227 523h2v1h-2zM150 524h1v1h-1zM218 524h3v1h-3zM229 524h1v1h-1zM330 524h3v1h-3zM738 524h1v1h-1zM166 524h1v2h-1zM149 525h1v1h-1zM216 525h2v1h-2zM230 525h1v1h-1zM329 525h1v1h-1zM333 525h4v1h-4zM739 525h2v1h-2zM737 525h1v2h-1zM147 526h2v1h-2zM167 526h1v1h-1zM215 526h1v1h-1zM231 526h2v1h-2zM328 526h1v1h-1zM337 526h2v1h-2zM741 526h1v1h-1zM145 527h2v1h-2zM168 527h1v1h-1zM213 527h2v1h-2zM233 527h1v1h-1zM327 527h1v1h-1zM736 527h1v1h-1zM742 527h1v1h-1zM339 527h1v2h-1zM143 528h2v1h-2zM169 528h1v1h-1zM211 528h2v1h-2zM234 528h1v1h-1zM325 528h2v1h-2zM735 528h1v1h-1zM743 528h2v1h-2zM140 529h3v1h-3zM170 529h1v1h-1zM210 529h1v1h-1zM235 529h1v1h-1zM306 529h3v1h-3zM324 529h1v1h-1zM601 529h26v1h-26zM745 529h1v1h-1zM340 529h1v2h-1zM734 529h1v2h-1zM119 530h6v1h-6zM137 530h3v1h-3zM171 530h2v1h-2zM209 530h1v1h-1zM236 530h1v1h-1zM309 530h4v1h-4zM323 530h1v1h-1zM597 530h4v1h-4zM627 530h2v1h-2zM746 530h5v1h-5zM305 530h1v2h-1zM115 531h4v1h-4zM125 531h4v1h-4zM133 531h4v1h-4zM173 531h2v1h-2zM208 531h1v1h-1zM237 531h1v1h-1zM313 531h10v1h-10zM593 531h4v1h-4zM629 531h1v1h-1zM733 531h1v1h-1zM751 531h4v1h-4zM114 531h1v2h-1zM341 531h1v2h-1zM129 532h4v1h-4zM175 532h1v1h-1zM207 532h1v1h-1zM238 532h1v1h-1zM591 532h2v1h-2zM630 532h1v1h-1zM732 532h1v1h-1zM755 532h2v1h-2zM304 532h1v2h-1zM176 533h2v1h-2zM205 533h2v1h-2zM239 533h1v1h-1zM588 533h3v1h-3zM631 533h2v1h-2zM757 533h2v1h-2zM113 533h1v2h-1zM342 533h1v2h-1zM731 533h1v2h-1zM178 534h2v1h-2zM204 534h1v1h-1zM240 534h1v1h-1zM586 534h2v1h-2zM633 534h1v1h-1zM759 534h1v1h-1zM769 534h2v1h-2zM303 534h1v2h-1zM180 535h2v1h-2zM203 535h1v1h-1zM241 535h1v1h-1zM247 535h5v1h-5zM584 535h2v1h-2zM634 535h1v1h-1zM650 535h2v1h-2zM730 535h1v1h-1zM760 535h2v1h-2zM765 535h4v1h-4zM112 535h1v2h-1zM343 535h1v2h-1zM771 535h1v2h-1zM182 536h2v1h-2zM199 536h4v1h-4zM242 536h5v1h-5zM252 536h3v1h-3zM302 536h1v1h-1zM583 536h1v1h-1zM635 536h2v1h-2zM648 536h2v1h-2zM652 536h2v1h-2zM729 536h1v1h-1zM762 536h3v1h-3zM184 537h2v1h-2zM191 537h8v1h-8zM255 537h2v1h-2zM581 537h2v1h-2zM637 537h2v1h-2zM647 537h1v1h-1zM654 537h2v1h-2zM705 537h4v1h-4zM728 537h1v1h-1zM111 537h1v2h-1zM301 537h1v2h-1zM344 537h1v2h-1zM772 537h1v2h-1zM186 538h5v1h-5zM257 538h3v1h-3zM569 538h6v1h-6zM579 538h2v1h-2zM639 538h1v1h-1zM645 538h2v1h-2zM656 538h2v1h-2zM701 538h4v1h-4zM709 538h4v1h-4zM727 538h1v1h-1zM260 539h3v1h-3zM567 539h2v1h-2zM575 539h4v1h-4zM640 539h2v1h-2zM643 539h2v1h-2zM658 539h2v1h-2zM698 539h3v1h-3zM713 539h3v1h-3zM725 539h2v1h-2zM874 539h1v1h-1zM300 539h1v2h-1zM345 539h1v2h-1zM773 539h1v2h-1zM110 539h1v3h-1zM263 540h2v1h-2zM281 540h3v1h-3zM564 540h3v1h-3zM642 540h1v1h-1zM660 540h3v1h-3zM716 540h3v1h-3zM724 540h1v1h-1zM872 540h2v1h-2zM697 540h1v2h-1zM875 540h1v2h-1zM265 541h6v1h-6zM277 541h4v1h-4zM284 541h3v1h-3zM346 541h1v1h-1zM561 541h3v1h-3zM663 541h2v1h-2zM719 541h2v1h-2zM723 541h1v1h-1zM774 541h1v1h-1zM870 541h2v1h-2zM905 541h2v1h-2zM299 541h1v2h-1zM271 542h6v1h-6zM287 542h2v1h-2zM347 542h1v1h-1zM557 542h4v1h-4zM665 542h3v1h-3zM696 542h1v1h-1zM721 542h2v1h-2zM868 542h2v1h-2zM876 542h1v1h-1zM901 542h4v1h-4zM109 542h1v2h-1zM775 542h1v2h-1zM289 543h10v1h-10zM348 543h1v1h-1zM555 543h2v1h-2zM668 543h3v1h-3zM849 543h19v1h-19zM877 543h1v1h-1zM890 543h11v1h-11zM554 543h1v2h-1zM695 543h1v2h-1zM349 544h2v1h-2zM394 544h5v1h-5zM671 544h2v1h-2zM847 544h2v1h-2zM889 544h1v1h-1zM108 544h1v2h-1zM776 544h1v2h-1zM878 544h1v2h-1zM-6 545h5v1h-5zM98 545h2v1h-2zM351 545h1v1h-1zM392 545h2v1h-2zM399 545h4v1h-4zM673 545h6v1h-6zM694 545h1v1h-1zM844 545h3v1h-3zM888 545h1v1h-1zM553 545h1v3h-1zM-1 546h6v1h-6zM97 546h1v1h-1zM100 546h2v1h-2zM352 546h1v1h-1zM391 546h1v1h-1zM403 546h1v1h-1zM679 546h4v1h-4zM842 546h2v1h-2zM879 546h1v1h-1zM887 546h1v1h-1zM107 546h1v2h-1zM693 546h1v2h-1zM777 546h1v2h-1zM5 547h4v1h-4zM25 547h4v1h-4zM96 547h1v1h-1zM102 547h2v1h-2zM353 547h1v1h-1zM359 547h8v1h-8zM389 547h2v1h-2zM404 547h1v1h-1zM683 547h2v1h-2zM840 547h2v1h-2zM880 547h1v1h-1zM885 547h2v1h-2zM9 548h4v1h-4zM23 548h2v1h-2zM29 548h4v1h-4zM95 548h1v1h-1zM104 548h2v1h-2zM354 548h5v1h-5zM367 548h5v1h-5zM387 548h2v1h-2zM405 548h2v1h-2zM685 548h2v1h-2zM692 548h1v1h-1zM778 548h2v1h-2zM825 548h4v1h-4zM838 548h2v1h-2zM884 548h1v1h-1zM106 548h1v2h-1zM881 548h1v2h-1zM552 548h1v3h-1zM13 549h4v1h-4zM20 549h3v1h-3zM33 549h2v1h-2zM372 549h2v1h-2zM385 549h2v1h-2zM407 549h1v1h-1zM687 549h1v1h-1zM780 549h3v1h-3zM823 549h2v1h-2zM829 549h4v1h-4zM836 549h2v1h-2zM883 549h1v1h-1zM94 549h1v2h-1zM691 549h1v2h-1zM17 550h3v1h-3zM35 550h2v1h-2zM374 550h2v1h-2zM383 550h2v1h-2zM408 550h1v1h-1zM423 550h6v1h-6zM688 550h2v1h-2zM783 550h2v1h-2zM820 550h3v1h-3zM833 550h3v1h-3zM882 550h1v1h-1zM37 551h1v1h-1zM81 551h3v1h-3zM93 551h1v1h-1zM376 551h2v1h-2zM380 551h3v1h-3zM409 551h1v1h-1zM415 551h8v1h-8zM429 551h4v1h-4zM439 551h4v1h-4zM690 551h1v1h-1zM785 551h4v1h-4zM818 551h2v1h-2zM551 551h1v3h-1zM38 552h1v1h-1zM77 552h4v1h-4zM84 552h3v1h-3zM92 552h1v1h-1zM378 552h2v1h-2zM410 552h5v1h-5zM433 552h6v1h-6zM443 552h1v1h-1zM789 552h4v1h-4zM816 552h2v1h-2zM39 553h2v1h-2zM66 553h11v1h-11zM87 553h2v1h-2zM91 553h1v1h-1zM444 553h1v1h-1zM793 553h12v1h-12zM814 553h2v1h-2zM41 554h1v1h-1zM64 554h2v1h-2zM89 554h2v1h-2zM445 554h1v1h-1zM805 554h4v1h-4zM812 554h2v1h-2zM550 554h1v2h-1zM42 555h5v1h-5zM62 555h2v1h-2zM446 555h1v1h-1zM809 555h3v1h-3zM47 556h8v1h-8zM60 556h2v1h-2zM447 556h1v1h-1zM549 556h1v3h-1zM55 557h5v1h-5zM448 557h1v1h-1zM449 558h1v1h-1zM450 559h2v1h-2zM548 559h1v3h-1zM452 560h2v1h-2zM513 560h6v1h-6zM454 561h2v1h-2zM509 561h4v1h-4zM519 561h12v1h-12zM456 562h2v1h-2zM490 562h2v1h-2zM505 562h4v1h-4zM531 562h2v1h-2zM547 562h1v3h-1zM458 563h2v1h-2zM488 563h2v1h-2zM492 563h3v1h-3zM503 563h2v1h-2zM533 563h2v1h-2zM460 564h3v1h-3zM486 564h2v1h-2zM495 564h2v1h-2zM500 564h3v1h-3zM535 564h1v1h-1zM463 565h2v1h-2zM471 565h8v1h-8zM484 565h2v1h-2zM497 565h3v1h-3zM536 565h2v1h-2zM546 565h1v2h-1zM465 566h6v1h-6zM479 566h5v1h-5zM538 566h8v1h-8z" fill="#1e90ff" />
</g>
<rect x="1" y="30" width="1152" height="1" fill="#000"/>
<rect x="1" y="30" width="1" height="458" fill="#000"/>
<rect x="1152" y="30" width="1" height="566" fill="#000"/>
<rect x="1" y="487" width="1152" height="1" fill="#000"/>
<rect x="1" y="489" width="1152" height="1" fill="#000"/>
<rect x="1" y="489" width="1" height="107" fill="#000"/>
<rect x="1" y="595" width="1152" height="1" fill="#000"/>
<rect x="1153" y="594" width="1" height="1" fill="#000"/>
<rect x="1153" y="55" width="2" height="1" fill="#000"/>
<rect x="1153" y="88" width="2" height="1" fill="#000"/>
<rect x="1153" y="121" width="2" height="1" fill="#000"/>
<rect x="1153" y="154" width="2" height="1" fill="#000"/>
<rect x="1153" y="187" width="2" height="1" fill="#000"/>
<rect x="1153" y="220" width="2" height="1" fill="#000"/>
<rect x="1153" y="253" width="2" height="1" fill="#000"/>
<rect x="1153" y="286" width="2" height="1" fill="#000"/>
<rect x="1153" y="319" width="2" height="1" fill="#000"/>
<rect x="1153" y="352" width="2" height="1" fill="#000"/>
<rect x="1153" y="385" width="2" height="1" fill="#000"/>
<rect x="1153" y="418" width="2" height="1" fill="#000"/>
<rect x="1153" y="451" width="2" height="1" fill="#000"/>
<rect x="1153" y="484" width="2" height="1" fill="#000"/>
<rect x="1153" y="491" width="1" height="1" fill="#000"/>
<rect x="2" y="596" width="1" height="3" fill="#000"/>
<rect x="66" y="596" width="1" height="3" fill="#000"/>
<rect x="130" y="596" width="1" height="3" fill="#000"/>
<rect x="194" y="596" width="1" height="3" fill="#000"/>
<rect x="258" y="596" width="1" height="3" fill="#000"/>
<rect x="322" y="596" width="1" height="3" fill="#000"/>
<rect x="386" y="596" width="1" height="3" fill="#000"/>
<rect x="450" y="596" width="1" height="3" fill="#000"/>
<rect x="514" y="596" width="1" height="3" fill="#000"/>
<rect x="578" y="596" width="1" height="3" fill="#000"/>
<rect x="642" y="596" width="1" height="3" fill="#000"/>
<rect x="706" y="596" width="1" height="3" fill="#000"/>
<rect x="770" y="596" width="1" height="3" fill="#000"/>
<rect x="834" y="596" width="1" height="3" fill="#000"/>
<rect x="898" y="596" width="1" height="3" fill="#000"/>
<rect x="1154" y="230" width="41" height="11" fill="#000"/>
<polygon points="5,37 12,37 8.5,41" fill="#000"/>
</svg>
<div class="t " style="left:1157.8px;top:48.53px;font-size:10px;line-height:14px;color:#000;transform:scaleX(0.9185)">0.73900</div>
<div class="t " style="left:1157.8px;top:81.53px;font-size:10px;line-height:14px;color:#000;transform:scaleX(0.9185)">0.73460</div>
<div class="t " style="left:1157.8px;top:114.53px;font-size:10px;line-height:14px;color:#000;transform:scaleX(0.9185)">0.73020</div>
<div class="t " style="left:1157.8px;top:147.53px;font-size:10px;line-height:14px;color:#000;transform:scaleX(0.9185)">0.72580</div>
<div class="t " style="left:1157.8px;top:180.53px;font-size:10px;line-height:14px;color:#000;transform:scaleX(0.9185)">0.72140</div>
<div class="t " style="left:1157.8px;top:213.53px;font-size:10px;line-height:14px;color:#000;transform:scaleX(0.9185)">0.71710</div>
<div class="t " style="left:1157.8px;top:246.53px;font-size:10px;line-height:14px;color:#000;transform:scaleX(0.9185)">0.71270</div>
<div class="t " style="left:1157.8px;top:279.54px;font-size:10px;line-height:14px;color:#000;transform:scaleX(0.9185)">0.70830</div>
<div class="t " style="left:1157.8px;top:312.54px;font-size:10px;line-height:14px;color:#000;transform:scaleX(0.9185)">0.70390</div>
<div class="t " style="left:1157.8px;top:345.54px;font-size:10px;line-height:14px;color:#000;transform:scaleX(0.9185)">0.69950</div>
<div class="t " style="left:1157.8px;top:378.54px;font-size:10px;line-height:14px;color:#000;transform:scaleX(0.9185)">0.69520</div>
<div class="t " style="left:1157.8px;top:411.54px;font-size:10px;line-height:14px;color:#000;transform:scaleX(0.9185)">0.69080</div>
<div class="t " style="left:1157.8px;top:444.54px;font-size:10px;line-height:14px;color:#000;transform:scaleX(0.9185)">0.68640</div>
<div class="t " style="left:1157.8px;top:477.54px;font-size:10px;line-height:14px;color:#000;transform:scaleX(0.9185)">0.68200</div>
<div class="t " style="left:1156.2px;top:489.54px;font-size:10px;line-height:14px;color:#000;transform:scaleX(0.8691)">100</div>
<div class="t " style="left:1155.2px;top:515.53px;font-size:10px;line-height:14px;color:#000;transform:scaleX(0.8810)">70</div>
<div class="t " style="left:1155.2px;top:556.53px;font-size:10px;line-height:14px;color:#000;transform:scaleX(0.8810)">30</div>
<div class="t " style="left:1155.8px;top:581.53px;font-size:10px;line-height:14px;color:#000;transform:scaleX(0.8990)">0</div>
<div class="t " style="left:1.4px;top:597.53px;font-size:10px;line-height:14px;color:#000;transform:scaleX(0.9350)">16 Oct 2018</div>
<div class="t " style="left:65.4px;top:597.53px;font-size:10px;line-height:14px;color:#000;transform:scaleX(0.9350)">25 Oct 2018</div>
<div class="t " style="left:129.4px;top:597.53px;font-size:10px;line-height:14px;color:#000;transform:scaleX(0.9350)">3 Nov 2018</div>
<div class="t " style="left:193.4px;top:597.53px;font-size:10px;line-height:14px;color:#000;transform:scaleX(0.9350)">13 Nov 2018</div>
<div class="t " style="left:257.4px;top:597.53px;font-size:10px;line-height:14px;color:#000;transform:scaleX(0.9350)">22 Nov 2018</div>
<div class="t " style="left:321.4px;top:597.53px;font-size:10px;line-height:14px;color:#000;transform:scaleX(0.9350)">1 Dec 2018</div>
<div class="t " style="left:385.4px;top:597.53px;font-size:10px;line-height:14px;color:#000;transform:scaleX(0.9350)">11 Dec 2018</div>
<div class="t " style="left:449.4px;top:597.53px;font-size:10px;line-height:14px;color:#000;transform:scaleX(0.9350)">20 Dec 2018</div>
<div class="t " style="left:513.4px;top:597.53px;font-size:10px;line-height:14px;color:#000;transform:scaleX(0.9350)">29 Dec 2018</div>
<div class="t " style="left:577.4px;top:597.53px;font-size:10px;line-height:14px;color:#000;transform:scaleX(0.9350)">8 Jan 2019</div>
<div class="t " style="left:641.4px;top:597.53px;font-size:10px;line-height:14px;color:#000;transform:scaleX(0.9350)">17 Jan 2019</div>
<div class="t " style="left:705.4px;top:597.53px;font-size:10px;line-height:14px;color:#000;transform:scaleX(0.9350)">26 Jan 2019</div>
<div class="t " style="left:769.4px;top:597.53px;font-size:10px;line-height:14px;color:#000;transform:scaleX(0.9350)">5 Feb 2019</div>
<div class="t " style="left:833.4px;top:597.53px;font-size:10px;line-height:14px;color:#000;transform:scaleX(0.9350)">14 Feb 2019</div>
<div class="t " style="left:897.4px;top:597.53px;font-size:10px;line-height:14px;color:#000;transform:scaleX(0.9350)">23 Feb 2019</div>
<div class="t " style="left:1157.8px;top:228.53px;font-size:10px;line-height:14px;color:#fff;transform:scaleX(0.9185)">0.71506</div>
<div class="t " style="left:17.4px;top:31.54px;font-size:10px;line-height:14px;color:#000;transform:scaleX(0.9668)">AUDUSD,Daily</div>
<div class="t " style="left:88.8px;top:31.54px;font-size:10px;line-height:14px;color:#000;transform:scaleX(0.9181)">0.71452 0.71608 0.71428 0.71506</div>
<div class="t " style="left:6px;top:491.54px;font-size:10px;line-height:14px;color:#000;transform:scaleX(0.9267)">RSI(14) 51.7836</div>
<div id="tabs"></div><div id="tabsl"></div><div id="tabline"></div><div id="tabl2"></div><div id="tabbot"></div><div id="tabbot2"></div>
<div id="act"></div>
<div class="t " style="left:15.1px;top:620.74px;font-size:12.3px;line-height:16px;color:#6e6e6e;transform:scaleX(0.9674)">EURUSD,Daily</div>
<div class="t " style="left:117.9px;top:620.74px;font-size:12.3px;line-height:16px;color:#000;transform:scaleX(0.9964)">AUDUSD,Daily</div>
<div class="t " style="left:221px;top:620.74px;font-size:12.3px;line-height:16px;color:#6e6e6e;transform:scaleX(0.9821)">USDCHF,Daily</div>
<div class="t " style="left:322px;top:620.74px;font-size:12.3px;line-height:16px;color:#6e6e6e;transform:scaleX(0.9819)">USDCAD,Daily</div>
<div class="t " style="left:424.7px;top:620.74px;font-size:12.3px;line-height:16px;color:#6e6e6e;transform:scaleX(0.9955)">USDCNH,Daily</div>
<div class="t " style="left:529px;top:620.74px;font-size:12.3px;line-height:16px;color:#6e6e6e;transform:scaleX(1.0004)">USDJPY,Weekly</div>
<div class="t " style="left:641.7px;top:620.74px;font-size:12.3px;line-height:16px;color:#6e6e6e;transform:scaleX(0.9872)">XAUUSD,H4</div>
<div class="t " style="left:734.7px;top:620.74px;font-size:12.3px;line-height:16px;color:#6e6e6e;transform:scaleX(0.9734)">GBPUSD,Daily</div>
<div class="t " style="left:838.5px;top:620.74px;font-size:12.3px;line-height:16px;color:#6e6e6e;transform:scaleX(1.0051)">SP500,M15</div>
<div class="t " style="left:926.9px;top:620.74px;font-size:12.3px;line-height:16px;color:#6e6e6e;transform:scaleX(0.9710)">GBPUSD,Daily</div>
<div class="t " style="left:1028.7px;top:620.74px;font-size:12.3px;line-height:16px;color:#6e6e6e;transform:scaleX(0.9926)">DJ30,H4</div>
<div class="t " style="left:1096.2px;top:620.74px;font-size:12.3px;line-height:16px;color:#6e6e6e;transform:scaleX(0.9728)">TECH100,H</div>
<div class="sep" style="left:311px"></div>
<div class="sep" style="left:415px"></div>
<div class="sep" style="left:519px"></div>
<div class="sep" style="left:631px"></div>
<div class="sep" style="left:723px"></div>
<div class="sep" style="left:827px"></div>
<div class="sep" style="left:915px"></div>
<div class="sep" style="left:1019px"></div>
<div class="sep" style="left:1087px"></div>
<svg style="position:absolute;left:1164px;top:620px" width="34" height="14"><polygon points="4,7 7.3,3.8 7.3,10.2" fill="#9a9a9a"/><polygon points="23,3.8 26.5,7 23,10.2" fill="#000"/></svg>
</body></html>
